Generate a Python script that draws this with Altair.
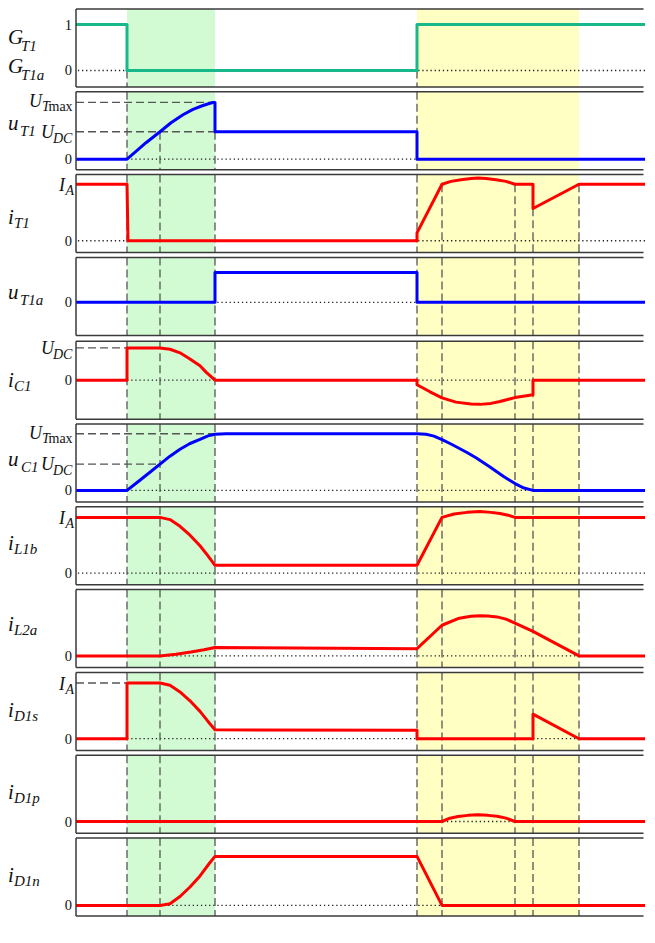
import altair as alt
import pandas as pd

# ---------------- data (time in arbitrary units, 0..569 visible) ----------------
T_MAX = 569
EVENT_TIMES = [51, 84, 139, 341, 366, 439, 457, 503]
GREEN_SPAN = [51, 139]
YELLOW_SPAN = [341, 503]

G_T = [0, 51, 51, 341, 341, 569]
G_V = [1, 1, 0, 0, 1, 1]

UT1_T = [0, 51, 60, 70, 84, 95, 107, 117, 127, 134, 137, 139, 139, 341, 341, 569]
UT1_V = [0, 0, 0.28, 0.6, 1.0, 1.33, 1.62, 1.82, 1.96, 2.04, 2.07, 2.07, 1.0, 1.0, 0, 0]

IT1_T = [0, 51, 52, 341, 341, 366, 375, 385, 395, 402, 410, 420, 430, 439, 457, 457, 503, 569]
IT1_V = [1, 1, 0, 0, 0.14, 1.0, 1.05, 1.08, 1.10, 1.11, 1.10, 1.08, 1.05, 1.0, 1.0, 0.57, 1.0, 1.0]

UT1A_T = [0, 139, 139, 341, 341, 569]
UT1A_V = [0, 0, 1, 1, 0, 0]

IC1_T = [0, 51, 51, 84, 94, 104, 114, 124, 130, 139, 341, 341, 354, 366, 380, 395, 404,
         415, 424, 439, 457, 457, 569]
IC1_V = [0, 0, 1, 1, 0.96, 0.85, 0.66, 0.45, 0.25, 0, 0, -0.14, -0.36, -0.55, -0.68, -0.74,
         -0.75, -0.72, -0.66, -0.54, -0.45, 0, 0]

UC1_T = [0, 51, 62, 73, 84, 94, 104, 114, 124, 132, 139, 150, 341, 350, 358, 366, 375, 391,
         400, 414, 428, 439, 448, 457, 569]
UC1_V = [0, 0, 0.33, 0.66, 1.0, 1.3, 1.56, 1.78, 1.94, 2.07, 2.13, 2.15, 2.15, 2.13, 2.06,
         1.93, 1.76, 1.44, 1.24, 0.89, 0.52, 0.26, 0.09, 0, 0]

IL1B_T = [0, 84, 94, 104, 114, 124, 132, 139, 341, 366, 378, 391, 404, 415, 424, 432, 439, 569]
IL1B_V = [1, 1, 0.96, 0.84, 0.68, 0.49, 0.31, 0.14, 0.14, 1.0, 1.06, 1.09, 1.105, 1.09, 1.07,
          1.04, 1.0, 1.0]

IL2A_T = [0, 84, 100, 115, 128, 139, 341, 366, 382, 395, 404, 412, 421, 430, 439, 457, 503, 569]
IL2A_V = [0, 0, 0.03, 0.07, 0.11, 0.15, 0.13, 0.55, 0.67, 0.71, 0.72, 0.715, 0.70, 0.66, 0.59,
          0.44, 0, 0]

ID1S_T = [0, 51, 51, 84, 94, 104, 114, 124, 132, 139, 341, 341, 457, 457, 503, 569]
ID1S_V = [0, 0, 1, 1, 0.96, 0.84, 0.68, 0.49, 0.31, 0.16, 0.15, 0, 0, 0.44, 0, 0]

ID1P_T = [0, 366, 374, 382, 392, 402, 412, 421, 430, 439, 569]
ID1P_V = [0, 0, 0.06, 0.09, 0.11, 0.12, 0.11, 0.095, 0.06, 0, 0]

ID1N_T = [0, 84, 94, 104, 114, 124, 134, 139, 341, 366, 569]
ID1N_V = [0, 0, 0.03, 0.16, 0.33, 0.53, 0.77, 0.88, 0.88, 0, 0]

UT_MAX_A = 2.07
UT_MAX_B = 2.15

# ---------------- style ----------------
W, H = 569, 78
SERIF = "Liberation Serif"
TEAL, BLUE, RED = "#17b889", "#0000ff", "#ff0000"
GREEN_FILL, YELLOW_FILL = "#d3fbd3", "#ffffc4"
DASH_COL = "#555555"
BORDER = "#3a3a3a"

FULL = None
ALL_FULL = [(t, FULL) for t in EVENT_TIMES]

PANELS = [
    dict(t=G_T, v=G_V, color=TEAL, domain=[-0.36, 1.34],
         ticks=[("1", 1), ("0", 0)], vlines=[(51, 0), (341, 0)], hlines=[],
         title=[("G", 35, "T1", -55, 42), ("G", 64, "T1a", -55, 71)]),
    dict(t=UT1_T, v=UT1_V, color=BLUE, domain=[-0.39, 2.46],
         ticks=[("UTmax", UT_MAX_A), ("UDC", 1), ("0", 0)],
         vlines=[(51, FULL), (84, 1.0), (139, 1.0), (341, FULL)],
         hlines=[(137, UT_MAX_A), (139, 1.0)],
         title=[("u", 38, "T1", -56, 44)]),
    dict(t=IT1_T, v=IT1_V, color=RED, domain=[-0.21, 1.17],
         ticks=[("IA", 1), ("0", 0)],
         vlines=[(51, FULL), (84, FULL), (139, FULL), (341, FULL),
                 (366, 1.0), (439, 1.0), (457, 1.0), (503, 1.0)],
         hlines=[], title=[("i", 49, "T1", -62, 53)]),
    dict(t=UT1A_T, v=UT1A_V, color=BLUE, domain=[-1.11, 1.51],
         ticks=[("0", 0)], vlines=ALL_FULL, hlines=[],
         title=[("u", 42, "T1a", -56, 48)]),
    dict(t=IC1_T, v=IC1_V, color=RED, domain=[-1.21, 1.21],
         ticks=[("UDC", 1), ("0", 0)], vlines=ALL_FULL, hlines=[(51, 1.0)],
         title=[("i", 46, "C1", -62, 50)]),
    dict(t=UC1_T, v=UC1_V, color=BLUE, domain=[-0.44, 2.52],
         ticks=[("UTmax", UT_MAX_B), ("UDC", 1), ("0", 0)], vlines=ALL_FULL,
         hlines=[(139, UT_MAX_B), (84, 1.0)],
         title=[("u", 42, "C1", -55, 48)]),
    dict(t=IL1B_T, v=IL1B_V, color=RED, domain=[-0.21, 1.19],
         ticks=[("IA", 1), ("0", 0)], vlines=ALL_FULL, hlines=[],
         title=[("i", 43, "L1b", -62, 47)]),
    dict(t=IL2A_T, v=IL2A_V, color=RED, domain=[-0.21, 1.19],
         ticks=[("0", 0)], vlines=ALL_FULL, hlines=[],
         title=[("i", 41, "L2a", -62, 45)]),
    dict(t=ID1S_T, v=ID1S_V, color=RED, domain=[-0.21, 1.19],
         ticks=[("IA", 1), ("0", 0)], vlines=ALL_FULL, hlines=[(51, 1.0)],
         title=[("i", 45, "D1s", -62, 49)]),
    dict(t=ID1P_T, v=ID1P_V, color=RED, domain=[-0.21, 1.19],
         ticks=[("0", 0)], vlines=ALL_FULL, hlines=[],
         title=[("i", 44, "D1p", -62, 48)]),
    dict(t=ID1N_T, v=ID1N_V, color=RED, domain=[-0.19, 1.21],
         ticks=[("0", 0)], vlines=ALL_FULL, hlines=[],
         title=[("i", 44, "D1n", -62, 48)]),
]

# text pieces of tick labels: (text, x, align, dy, size, style)
TICK_PIECES = {
    "0": [("0", -4, "right", 5, 14.5, "normal")],
    "1": [("1", -4, "right", 5, 14.5, "normal")],
    "UDC": [("U", -35, "left", 6, 18, "italic"), ("DC", -23, "left", 11, 14, "italic")],
    "UTmax": [("U", -47, "left", 5, 18, "italic"), ("T", -34, "left", 9, 14, "italic"),
              ("max", -27.5, "left", 9, 14, "normal")],
    "IA": [("I", -17, "left", 7, 18, "italic"), ("A", -10.5, "left", 11, 14, "italic")],
}

ONE = pd.DataFrame({"a": [0]})


def build(p):
    lo, hi = p["domain"]
    xsc = alt.Scale(domain=[0, T_MAX], nice=False, zero=False)
    ysc = alt.Scale(domain=[lo, hi], nice=False, zero=False)

    def X(f):
        return alt.X(f, type="quantitative", scale=xsc, axis=None)

    def Y(f):
        return alt.Y(f, type="quantitative", scale=ysc, axis=None)

    layers = []
    shade = pd.DataFrame({"a": [GREEN_SPAN[0], YELLOW_SPAN[0]],
                          "b": [GREEN_SPAN[1], YELLOW_SPAN[1]],
                          "c": [GREEN_FILL, YELLOW_FILL]})
    layers.append(alt.Chart(shade).mark_rect().encode(
        x=X("a"), x2="b:Q", y=alt.value(0), y2=alt.value(H),
        color=alt.Color("c:N", scale=None)))

    layers.append(alt.Chart(pd.DataFrame({"v": [0]})).mark_rule(
        color="#222222", strokeWidth=1.3, strokeDash=[1.3, 2.8], clip=True).encode(y=Y("v")))

    vl = pd.DataFrame({"t": [a for a, _ in p["vlines"]],
                       "ys": [hi if b is None else b for _, b in p["vlines"]],
                       "ye": [lo] * len(p["vlines"])})
    layers.append(alt.Chart(vl).mark_rule(
        color=DASH_COL, strokeWidth=1.3, strokeDash=[8, 4], clip=True).encode(
        x=X("t"), y=Y("ys"), y2="ye:Q"))

    if p["hlines"]:
        hl = pd.DataFrame({"t0": [0] * len(p["hlines"]),
                           "t1": [a for a, _ in p["hlines"]],
                           "v": [b for _, b in p["hlines"]]})
        layers.append(alt.Chart(hl).mark_rule(
            color=DASH_COL, strokeWidth=1.3, strokeDash=[8, 4], clip=True).encode(
            x=X("t0"), x2="t1:Q", y=Y("v")))

    wf = pd.DataFrame({"k": list(range(len(p["t"]))), "t": p["t"], "v": p["v"]})
    layers.append(alt.Chart(wf).mark_line(
        color=p["color"], strokeWidth=3, strokeJoin="round", strokeCap="butt",
        clip=True).encode(x=X("t"), y=Y("v"), order="k:Q"))

    for kind, val in p["ticks"]:
        for txt, xo, al, dy, fs, st in TICK_PIECES[kind]:
            layers.append(alt.Chart(pd.DataFrame({"v": [val]})).mark_text(
                text=txt, align=al, baseline="alphabetic", dy=dy, fontSize=fs,
                fontStyle=st, font=SERIF, color="#111111").encode(
                x=alt.value(xo), y=Y("v")))

    for main, yb, sub, xs, ys in p["title"]:
        layers.append(alt.Chart(ONE).mark_text(
            text=main, align="left", baseline="alphabetic", fontSize=21,
            fontStyle="italic", font=SERIF, color="#111111").encode(
            x=alt.value(-68), y=alt.value(yb)))
        layers.append(alt.Chart(ONE).mark_text(
            text=sub, align="left", baseline="alphabetic", fontSize=15,
            fontStyle="italic", font=SERIF, color="#111111").encode(
            x=alt.value(xs), y=alt.value(ys)))

    # frame (top, bottom, left); kept inside the plot width
    layers.append(alt.Chart(ONE).mark_rule(color=BORDER, strokeWidth=1.5).encode(
        x=alt.value(0), x2=alt.value(W - 1.5), y=alt.value(0)))
    layers.append(alt.Chart(ONE).mark_rule(color=BORDER, strokeWidth=1.5).encode(
        x=alt.value(0), x2=alt.value(W - 1.5), y=alt.value(H)))
    layers.append(alt.Chart(ONE).mark_rule(color=BORDER, strokeWidth=1.5).encode(
        x=alt.value(0), y=alt.value(0), y2=alt.value(H)))

    return alt.layer(*layers).properties(width=W, height=H)


chart = alt.vconcat(*[build(p) for p in PANELS], spacing=2.8).resolve_scale(
    x="independent", y="independent"
).properties(
    padding=0
).configure_view(stroke=None)

chart.save("out.html", embed_options={"renderer": "svg", "actions": False})
